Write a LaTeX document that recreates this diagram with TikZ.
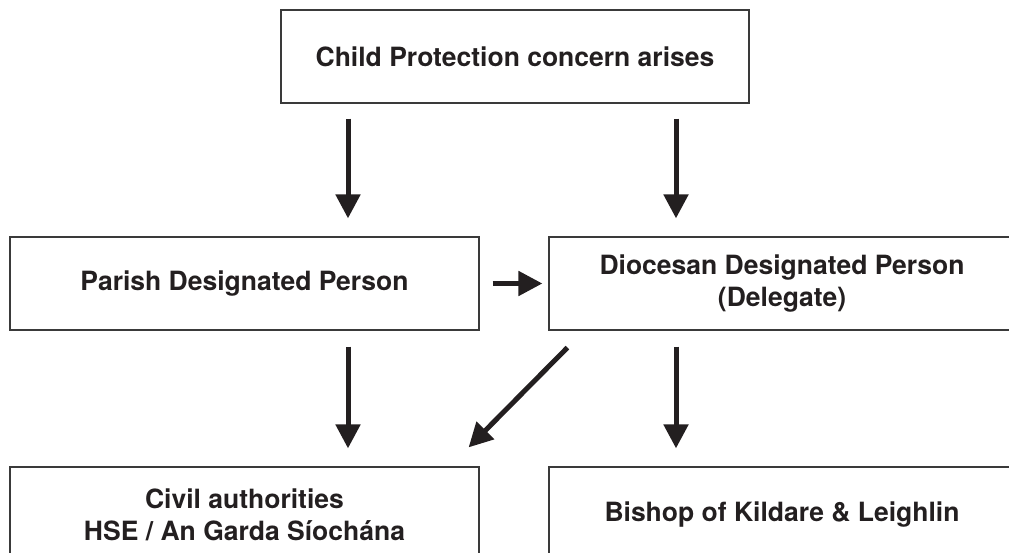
\documentclass[tikz,border=0pt]{standalone}
\usepackage{fontspec}
\setmainfont{TeX Gyre Heros}
\usetikzlibrary{arrows.meta,positioning}
\definecolor{arrowcol}{HTML}{231F20}
\definecolor{boxcol}{HTML}{3A3A3A}
\tikzset{
  line/.style={-{Triangle[width=24pt,length=24pt]}, line width=5pt, draw=arrowcol},
  box/.style={draw=boxcol, line width=1.2pt, align=center, inner sep=0pt,
    font=\fontsize{26.5}{32}\selectfont\bfseries, text=arrowcol},
  wide/.style={box, minimum width=469pt, minimum height=93pt},
  low/.style={box, minimum width=469pt, minimum height=96pt}
}
\begin{document}
\begin{tikzpicture}[x=1pt,y=1pt]
  \useasboundingbox (0,0) rectangle (1009,552);
  \clip (0,0) rectangle (1009,552);
  \node[box, minimum width=468pt, minimum height=93pt] (concern) at (515,495.5) {Child Protection concern arises};
  \node[wide] (parish) at (244.5,268.5) {Parish Designated Person};
  \node[wide, minimum width=466pt] (diocesan) at (782,268.5) {Diocesan Designated Person\\(Delegate)};
  \node[low] (civil) at (244.5,37) {Civil authorities\\HSE / An Garda Síochána};
  \node[low, minimum width=466pt] (bishop) at (782,37) {Bishop of Kildare \& Leighlin};
  \draw[line, shorten <=15pt, shorten >=18pt] ([xshift=-167pt]concern.south) -- ([xshift=-167pt]concern.south |- parish.north);
  \draw[line, shorten <=15pt, shorten >=18pt] ([xshift=161pt]concern.south) -- ([xshift=161pt]concern.south |- diocesan.north);
  \draw[line, shorten <=13pt, shorten >=6pt] (parish.east) -- (diocesan.west);
  \draw[line, shorten <=16pt, shorten >=18pt] ([xshift=103.5pt]parish.south) -- ([xshift=103.5pt]parish.south |- civil.north);
  \draw[line, shorten <=16pt, shorten >=18pt] ([xshift=-106pt]diocesan.south) -- ([xshift=-106pt]diocesan.south |- bishop.north);
  \draw[line] ([shift={(19pt,-17pt)}]diocesan.south west) -- ([shift={(-11pt,19pt)}]civil.north east);
\end{tikzpicture}
\end{document}
